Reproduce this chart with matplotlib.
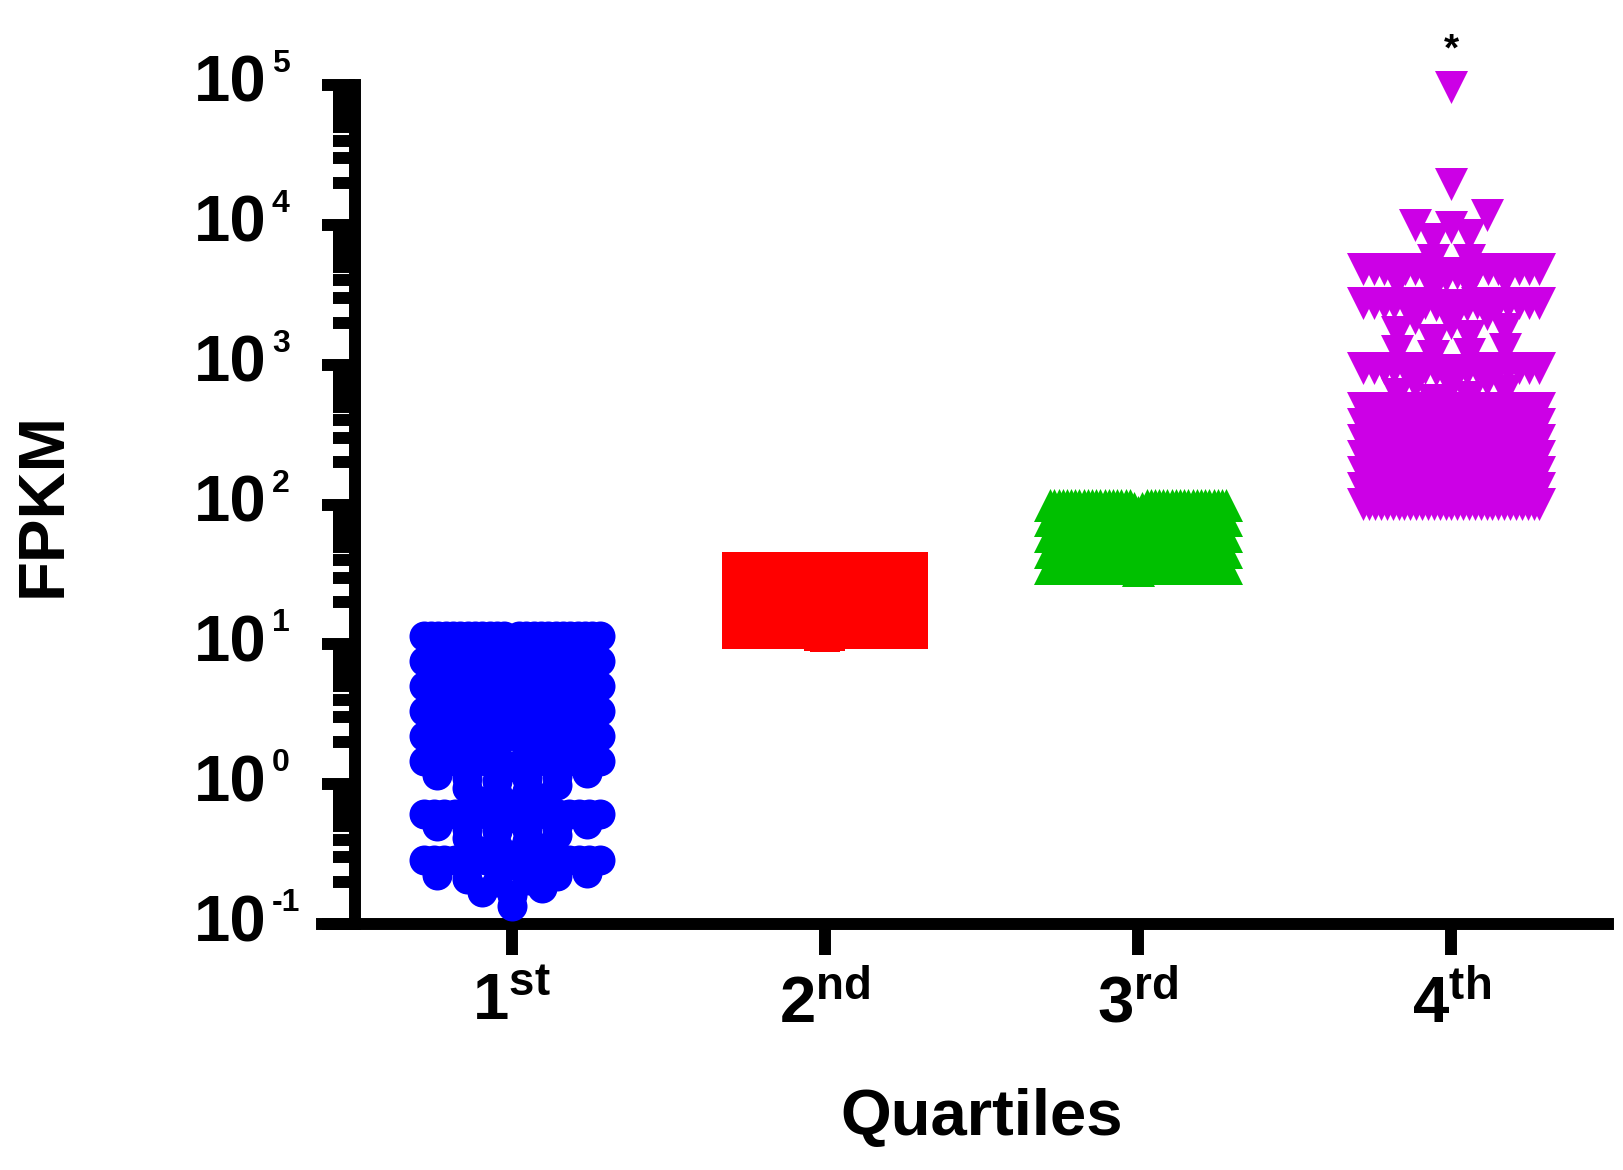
import numpy as np
import matplotlib
matplotlib.use('Agg')
import matplotlib.pyplot as plt
from matplotlib.ticker import LogLocator, NullFormatter

plt.rcParams['font.family'] = 'Liberation Sans'
plt.rcParams['mathtext.fontset'] = 'custom'
plt.rcParams['mathtext.rm'] = 'Liberation Sans:bold'
plt.rcParams['mathtext.bf'] = 'Liberation Sans:bold'
plt.rcParams['mathtext.it'] = 'Liberation Sans:bold'

# FPKM: value and about how many genes sit at that value
quartiles = ['1st', '2nd', '3rd', '4th']

q1_fpkm = [0.135, 0.16, 0.17, 0.18,
           0.20, 0.205, 0.21, 0.22, 0.225, 0.23,
           0.26, 0.27, 0.286,
           0.31, 0.33, 0.35, 0.37, 0.39, 0.41, 0.43,
           0.46, 0.47, 0.48, 0.49, 0.50, 0.52,
           0.56, 0.58, 0.61,
           0.72, 0.76, 0.80, 0.86, 0.90, 0.94, 0.98,
           1.05, 1.08, 1.11, 1.14, 1.17, 1.20,
           1.30, 1.38, 1.46,
           1.60, 1.68, 1.76, 1.84,
           2.20, 3.32, 5.00, 7.56, 10.6, 11.4]
q1_genes = [1, 1, 1, 1,
            1, 1, 1, 1, 1, 1,
            1, 3, 14,
            1, 1, 1, 1, 1, 1, 1,
            1, 1, 1, 1, 1, 1,
            1, 3, 14,
            1, 1, 1, 1, 1, 1, 1,
            1, 1, 1, 1, 1, 1,
            1, 3, 14,
            1, 1, 1, 1,
            20, 24, 24, 24, 1, 24]

q2_fpkm = [11.2, 11.5, 11.8, 17.0, 24.6, 34.0, 35.0, 35.5]
q2_genes = [1, 2, 30, 30, 30, 1, 2, 30]

q3_fpkm = [34, 35.1, 45.7, 59.5, 77.5, 88, 94, 99.2]
q3_genes = [1, 40, 40, 40, 40, 1, 2, 40]

q4_fpkm = [100.2, 101, 131, 171, 222, 289, 376, 490,
           560, 590, 620, 650, 700, 740, 780,
           880, 910, 950,
           1150, 1200, 1250, 1300, 1500, 1600, 1700, 1800,
           2000, 2150, 2300, 2550, 2650, 2750,
           3500, 3700, 3900, 4100, 4300, 4500, 4800,
           5600, 7900, 8500, 9600, 10000, 11800, 19500, 97000]
q4_genes = [1, 30, 30, 30, 30, 30, 30, 30,
            1, 1, 1, 1, 1, 1, 1,
            1, 3, 14,
            1, 1, 1, 1, 1, 1, 1, 1,
            1, 1, 1, 1, 3, 14,
            1, 1, 1, 1, 1, 3, 14,
            2, 1, 1, 1, 1, 1, 1, 1]

# marker, colour, marker size (px), spacing in sparse rows (px),
# row height (px) and one row boundary (FPKM)
groups = [
    (q1_fpkm, q1_genes, 'o', '#0000FF', 30, 30, 12.5, 1.52),
    (q2_fpkm, q2_genes, 's', '#FF0000', 30, 30, 22, 42.1),
    (q3_fpkm, q3_genes, '^', '#00C000', 33, 36, 16, 111.3),
    (q4_fpkm, q4_genes, 'v', '#CC00E6', 33, 36, 16, 12050),
]


def column_offsets(ypix, half_w, gap, row_h, edge_pix):
    # GraphPad-style column scatter: points are binned in rows, within a row
    # the lowest value sits in the middle and the rest alternate left/right,
    # squeezed together when the row is wider than the column
    rows = np.floor((ypix - edge_pix) / row_h).astype(int)
    xs = np.zeros(len(ypix))
    for r in np.unique(rows):
        idx = np.where(rows == r)[0]
        idx = idx[np.argsort(-ypix[idx], kind='stable')]
        n = len(idx)
        step = gap if (n - 1) * gap <= 2 * half_w else 2 * half_w / (n - 1)
        k = np.arange(n)
        if n % 2:
            slot = np.where(k == 0, 0, np.where(k % 2 == 1, -((k + 1) // 2), k // 2))
        else:
            slot = np.where(k % 2 == 0, -(k // 2 + 0.5), k // 2 + 0.5)
        xs[idx] = slot * step
    return xs


fig = plt.figure(figsize=(16.24, 11.70), dpi=100)
ax = fig.add_axes([355 / 1624, 1 - 924 / 1170, 1253 / 1624, 839 / 1170])
ax.set_yscale('log')
ax.set_xlim(-0.5, 3.5)
ax.set_ylim(0.1, 1e5)

fig_h = fig.bbox.height
px_per_x = ax.transData.transform((1, 1))[0] - ax.transData.transform((0, 1))[0]

for pos, (vals, genes, marker, color, size_px, gap, row_h, edge) in enumerate(groups):
    y = np.repeat(np.array(vals, dtype=float), genes)
    ypix = fig_h - ax.transData.transform(np.column_stack([np.full(len(y), pos), y]))[:, 1]
    edge_pix = fig_h - ax.transData.transform((pos, edge))[1]
    off = column_offsets(ypix, 88, gap, row_h, edge_pix)
    size_pt = size_px * 72 / 100
    ax.scatter(pos + off / px_per_x, y, s=size_pt ** 2, marker=marker,
               color=color, linewidths=0, zorder=3, clip_on=False)

# asterisk over the top outlier
ax.annotate('*', xy=(3, max(q4_fpkm)), xytext=(0, 26), textcoords='offset pixels',
            ha='center', va='baseline', fontsize=28, fontweight='bold')

# axes in GraphPad style
for side in ['top', 'right']:
    ax.spines[side].set_visible(False)
for side in ['left', 'bottom']:
    ax.spines[side].set_linewidth(8.6)
ax.spines['bottom'].set_bounds(-0.5 - 33 / px_per_x, 3.5)

ax.set_yticks([10.0 ** e for e in range(-1, 6)])
ax.yaxis.set_minor_locator(LogLocator(base=10, subs=np.arange(2, 10)))
ax.yaxis.set_minor_formatter(NullFormatter())
ax.set_yticklabels([''] * 7)
ax.tick_params(axis='y', which='major', length=24, width=8.6)
ax.tick_params(axis='y', which='minor', length=16, width=8.6)

for e in range(-1, 6):
    ax.annotate('10', xy=(0, 10.0 ** e), xycoords=('axes fraction', 'data'),
                xytext=(-88, -17), textcoords='offset pixels',
                ha='right', va='baseline', fontsize=47, fontweight='bold')
    ax.annotate(str(e), xy=(0, 10.0 ** e), xycoords=('axes fraction', 'data'),
                xytext=(-83, 13), textcoords='offset pixels',
                ha='left', va='baseline', fontsize=23, fontweight='bold')

ax.set_xticks(range(4))
ax.set_xticklabels([r'$%s^{%s}$' % (q[0], q[1:]) for q in quartiles], fontsize=47)
ax.tick_params(axis='x', length=22, width=8.6, pad=13)

ax.set_xlabel('Quartiles', fontsize=47, fontweight='bold', va='center')
ax.xaxis.set_label_coords(0.5, (924 - 1118) / 839)
ax.set_ylabel('FPKM', fontsize=47, fontweight='bold', va='center')
ax.yaxis.set_label_coords((44 - 355) / 1253, 0.5)

fig.savefig('out.png', dpi=100)
